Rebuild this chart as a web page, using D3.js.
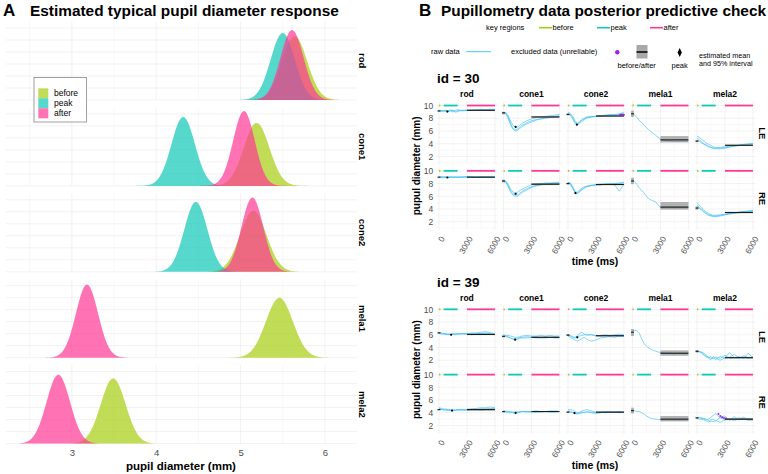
<!DOCTYPE html>
<html>
<head>
<meta charset="utf-8">
<script src="https://cdn.jsdelivr.net/npm/d3@7"></script>
<style>
body { margin: 0; background: #fff; }
svg { font-family: "Liberation Sans", Arial, Helvetica, sans-serif; display: block; }
</style>
</head>
<body>
<svg id="chart" width="768" height="474"></svg>
<script>
// conditions shared by both panels
const conditions = ['rod', 'cone1', 'cone2', 'mela1', 'mela2'];
const groups = ['before', 'peak', 'after'];

// panel A: posterior of typical pupil diameter (mean, sd in mm) per condition
const densBeforeMean = [5.64, 5.19, 5.15, 5.46, 3.49];
const densBeforeSd   = [0.150, 0.152, 0.157, 0.160, 0.147];
const densPeakMean   = [5.50, 4.32, 4.47, null, null];
const densPeakSd     = [0.143, 0.139, 0.137, null, null];
const densAfterMean  = [5.61, 5.04, 5.14, 3.18, 2.84];
const densAfterSd    = [0.137, 0.128, 0.129, 0.131, 0.139];
const densTicks = [3, 4, 5, 6];

// panel B: key regions (ms)
const regionBefore = [0, 150];
const regionPeak = [500, 2000];
const regionAfter = [3000, 6000];
const timeTicks = [0, 3000, 6000];
const diamTicks = [2, 4, 6, 8, 10];

// raw traces, sampled at these times (ms)
const rawTimes = [0, 250, 500, 750, 1000, 1250, 1500, 1750, 2000, 2500, 3000, 3500, 4000, 4500, 5000, 5500, 6000];

const raw30LE = [
  [[9.2,9.1,9.15,9.1,9.1,9.15,9.0,9.1,9.2,9.2,9.25,9.25,9.3,9.25,9.3,9.3,9.25],
   [9.1,9.15,9.1,9.2,9.15,9.2,9.3,8.95,9.05,9.3,9.2,9.35,9.25,9.4,9.35,9.3,9.4],
   [9.25,9.2,9.2,9.25,9.2,9.3,9.15,9.25,9.35,9.15,9.3,9.2,9.3,9.35,9.25,9.45,9.35]],
  [[8.9,8.8,8.2,7.2,6.5,6.2,6.3,6.6,6.9,7.3,7.6,7.8,7.9,8.0,8.1,8.2,8.3],
   [8.8,8.7,8.0,7.0,6.3,6.0,6.1,6.4,6.7,7.1,7.4,7.7,7.9,8.1,8.2,8.3,8.4],
   [8.9,8.9,8.4,7.6,6.9,6.6,6.6,6.9,7.2,7.6,7.9,8.1,8.2,8.3,8.4,8.5,8.6]],
  [[8.6,8.5,7.9,7.2,6.9,7.2,7.5,7.8,8.0,8.2,8.3,8.3,8.4,8.4,8.5,8.5,8.6],
   [8.7,8.6,8.1,7.4,7.0,7.4,7.7,7.9,8.1,8.2,8.3,8.4,8.4,8.5,8.5,8.6,8.7],
   [8.9,8.8,8.3,7.6,7.2,7.5,7.8,8.0,8.2,8.3,8.3,8.4,8.5,8.6,8.6,8.7,8.9]],
  [[8.7,8.5,8.1,7.6,7.3,6.9,6.5,6.2,5.9,5.3,4.7,4.5,4.45,4.4,4.4,4.4,4.4]],
  [[5.2,5.0,4.7,4.4,4.1,3.9,3.7,3.5,3.4,3.3,3.4,3.5,3.6,3.7,3.8,3.9,4.0],
   [4.9,4.6,4.3,4.0,3.8,3.6,3.4,3.3,3.2,3.2,3.3,3.5,3.6,3.8,3.9,4.0,4.1],
   [4.6,4.4,4.1,3.9,3.7,3.5,3.4,3.3,3.3,3.4,3.5,3.6,3.7,3.7,3.8,3.8,3.9]]
];
const raw30RE = [
  [[9.0,9.0,8.95,9.0,9.05,9.0,9.0,9.05,9.0,9.05,9.0,9.05,9.05,9.0,9.05,9.05,9.0],
   [8.95,9.05,9.0,8.95,9.0,9.05,8.95,9.0,9.05,9.0,9.1,9.0,9.0,9.1,9.0,9.0,9.1],
   [9.05,9.0,9.05,9.05,8.95,9.0,9.05,9.0,8.95,9.0,9.05,9.1,9.0,9.05,9.1,9.05,9.05]],
  [[8.5,8.3,7.7,6.9,6.4,6.2,6.2,6.5,6.8,7.2,7.5,7.7,7.8,7.9,8.0,8.0,8.1],
   [8.3,8.2,7.5,6.7,6.2,6.0,6.0,6.3,6.6,7.0,7.4,7.6,7.8,7.9,7.9,8.0,8.0],
   [8.4,8.4,7.9,7.2,6.7,6.5,6.6,6.9,7.1,7.5,7.8,7.9,8.0,8.1,8.1,8.2,8.2]],
  [[8.0,7.9,7.2,6.6,6.5,6.8,7.1,7.3,7.5,7.7,7.8,7.8,7.9,7.9,8.0,8.0,8.1],
   [8.2,8.1,7.5,6.8,6.6,7.0,7.3,7.5,7.6,7.7,7.8,7.9,7.9,8.0,8.0,8.1,8.2],
   [8.1,8.0,7.4,6.6,6.4,6.7,7.0,7.3,7.5,7.7,7.8,7.8,7.9,7.9,7.8,6.8,7.9]],
  [[8.6,8.3,7.8,7.3,6.9,6.5,6.0,5.6,5.4,5.1,4.2,4.2,4.2,4.2,4.2,4.2,4.2]],
  [[5.0,4.6,4.2,3.8,3.5,3.3,3.1,3.0,3.0,3.1,3.2,3.3,3.4,3.5,3.6,3.6,3.7],
   [4.6,4.3,3.9,3.6,3.3,3.1,3.0,2.9,2.9,3.0,3.1,3.3,3.4,3.5,3.6,3.7,3.8],
   [4.3,4.1,3.8,3.5,3.2,3.0,2.9,2.8,2.8,2.9,3.1,3.2,3.3,3.4,3.5,3.5,3.6]]
];
const raw39LE = [
  [[6.4,6.3,6.2,6.1,6.1,6.0,6.1,6.1,6.2,6.1,6.2,6.2,6.3,6.4,6.5,6.3,6.2],
   [6.2,6.2,6.1,6.2,6.0,6.1,6.0,6.2,6.1,6.2,6.1,6.3,6.2,6.2,6.3,6.2,6.1],
   [6.3,6.1,6.2,6.0,6.1,6.1,6.2,6.0,6.1,6.2,6.1,6.0,6.1,6.2,6.2,6.1,6.0]],
  [[5.9,5.8,5.7,5.5,5.3,5.1,5.3,5.5,5.6,5.7,5.6,5.7,5.6,5.7,5.6,5.7,5.6],
   [6.0,5.9,5.9,5.8,5.7,5.6,5.6,5.7,5.8,5.9,5.8,5.8,5.9,5.8,5.9,5.8,5.8],
   [5.7,5.7,5.6,5.5,5.4,5.3,5.4,5.5,5.5,5.5,5.6,5.5,5.5,5.5,5.6,5.5,5.5]],
  [[6.0,5.9,5.7,5.6,5.8,6.2,6.4,6.1,5.9,6.0,5.8,5.9,6.0,5.9,6.0,6.1,6.0],
   [5.9,5.8,5.6,5.5,5.6,5.8,5.9,6.0,6.1,6.0,5.9,5.8,5.9,5.8,5.9,5.8,5.9],
   [5.8,5.6,5.4,5.2,5.0,5.2,5.4,5.6,5.3,5.0,5.2,5.5,5.6,5.7,5.6,5.8,5.7]],
  [[6.6,6.7,6.6,6.2,5.3,4.6,4.2,3.9,3.7,3.4,3.2,3.1,3.1,3.0,3.1,3.0,3.1]],
  [[3.5,3.4,3.2,2.9,2.6,2.5,2.3,2.4,2.1,2.6,2.3,2.5,2.9,2.4,2.5,2.3,2.6],
   [3.4,3.3,3.3,3.1,2.8,2.4,2.6,2.2,2.5,2.3,2.8,2.3,2.4,2.6,2.3,3.1,2.4],
   [3.3,3.4,3.1,2.8,2.5,2.3,2.1,2.6,2.3,2.0,2.4,3.2,2.4,2.3,2.7,2.4,2.3]]
];
const raw39RE = [
  [[4.7,4.6,4.5,4.4,4.4,4.4,4.3,4.4,4.5,4.5,4.5,4.6,4.7,4.8,4.8,4.9,4.8],
   [4.5,4.5,4.4,4.5,4.4,4.3,4.4,4.4,4.4,4.5,4.4,4.5,4.5,4.4,4.5,4.6,4.5],
   [4.8,4.7,4.6,4.6,4.5,4.5,4.5,4.4,4.5,4.4,4.5,4.5,4.5,4.6,4.6,4.6,4.7]],
  [[4.3,4.2,4.2,4.1,4.0,3.8,4.0,4.1,4.2,4.2,4.2,4.3,4.2,4.2,4.3,4.2,4.2],
   [4.2,4.3,4.2,4.2,4.1,4.1,4.1,4.2,4.2,4.1,4.2,4.2,4.2,4.2,4.2,4.3,4.2],
   [4.1,4.1,4.0,4.0,4.1,4.0,4.1,4.1,4.2,4.2,4.1,4.1,4.1,4.2,4.1,4.1,4.2]],
  [[4.5,4.5,4.4,4.2,4.0,4.1,4.3,4.4,4.5,4.3,4.1,4.1,4.2,4.1,4.1,4.2,4.1],
   [4.2,4.1,4.0,3.9,3.9,4.0,4.1,4.0,4.1,4.1,4.0,4.1,4.0,4.1,4.1,4.0,4.1],
   [4.3,4.2,4.1,3.9,3.8,3.9,4.0,4.1,4.2,4.0,3.9,4.0,4.1,4.2,4.1,4.2,4.0]],
  [[4.3,4.3,4.2,4.2,4.0,3.8,3.5,3.3,3.1,3.0,2.9,2.9,2.9,2.9,2.9,2.9,2.9]],
  [[3.3,3.2,3.1,3.0,2.9,3.0,3.3,3.6,3.9,3.2,2.9,3.1,3.0,3.2,3.0,3.1,3.0],
   [3.2,3.3,3.2,3.1,3.0,2.8,2.9,3.0,2.7,3.3,3.5,2.8,3.4,2.9,3.1,2.8,3.1],
   [3.1,3.0,3.0,2.9,2.7,2.6,2.7,2.6,2.8,2.5,2.9,3.0,2.8,3.0,3.3,2.9,2.8]]
];

// excluded (unreliable) samples: [condition index, time ms, diameter]
const excluded30LE = [[2, 5600, 8.55], [2, 5800, 8.6], [2, 6000, 8.55]];
const excluded30RE = [];
const excluded39LE = [];
const excluded39RE = [[4, 2300, 3.8], [4, 2500, 3.5], [4, 2700, 3.3], [4, 2900, 3.2], [4, 3100, 3.1]];

// estimates: before/after [mean, lo, hi], peak [time, mean, lo, hi]
const before30LE = [[9.15,9.05,9.25],[8.85,8.6,9.0],[8.6,8.45,8.75],[8.7,8.2,9.2],[4.4,4.25,4.55]];
const peak30LE   = [[900,9.05,9.0,9.1],[1300,6.65,6.55,6.75],[950,7.0,6.9,7.1],null,null];
const after30LE  = [[9.25,9.18,9.32],[8.2,8.1,8.3],[8.35,8.25,8.45],[4.6,4.2,5.2],[3.75,3.65,3.85]];
const before30RE = [[9.0,8.95,9.05],[8.4,8.2,8.6],[8.0,7.85,8.15],[8.4,7.9,8.9],[4.15,3.9,4.4]];
const peak30RE   = [[900,8.95,8.9,9.0],[1300,6.4,6.3,6.5],[800,6.5,6.4,6.6],null,null];
const after30RE  = [[9.0,8.95,9.05],[7.9,7.75,8.05],[7.85,7.75,7.95],[4.3,3.9,5.1],[3.45,3.35,3.55]];
const before39LE = [[6.3,6.2,6.4],[5.75,5.6,5.9],[5.95,5.8,6.1],[6.4,5.8,6.9],[3.4,3.2,3.6]];
const peak39LE   = [[1300,6.0,5.95,6.05],[1250,5.25,5.15,5.35],[1000,5.6,5.5,5.7],null,null];
const after39LE  = [[6.05,5.95,6.15],[5.6,5.5,5.7],[5.85,5.75,5.95],[3.1,2.7,3.55],[2.4,2.3,2.5]];
const before39RE = [[4.5,4.4,4.6],[4.2,4.1,4.3],[4.1,4.0,4.2],[4.35,3.9,4.8],[3.2,3.1,3.3]];
const peak39RE   = [[1400,4.35,4.3,4.4],[1300,4.0,3.95,4.05],[700,3.95,3.9,4.0],null,null];
const after39RE  = [[4.5,4.35,4.65],[4.2,4.12,4.28],[4.1,4.0,4.2],[3.0,2.65,3.5],[3.0,2.85,3.15]];

// ---------- styling ----------
const COLORS = { before: '#a6cd10', peak: '#10c8b6', after: '#ff3894' };
const FILL_OPACITY = 0.7;
const RAW_COLOR = '#3cc0f5';
const EXCL_COLOR = '#a020f0';
const GRID_MAJOR = '#e9e9e9';
const GRID_MINOR = '#f3f3f3';
const TICK_TEXT = '#4d4d4d';

const svg = d3.select('#chart');

// ============ panel A ============
const A = { left: 6, right: 357, top: 21.5, pitch: 85.9, height: 78.5 };
const xA = d3.scaleLinear().domain([2.22, 6.38]).range([A.left, A.right]);
const yA = d3.scaleLinear().domain([0, 3.27]).range([A.height, 0]);

svg.append('text').attr('x', 3).attr('y', 16).attr('font-size', 17).attr('font-weight', 'bold').text('A');
svg.append('text').attr('x', 30).attr('y', 16).attr('font-size', 15.4).attr('font-weight', 'bold')
  .text('Estimated typical pupil diameter response');

const densMeans = { before: densBeforeMean, peak: densPeakMean, after: densAfterMean };
const densSds = { before: densBeforeSd, peak: densPeakSd, after: densAfterSd };

function normalPdf(x, m, s) {
  return Math.exp(-0.5 * ((x - m) / s) ** 2) / (s * Math.sqrt(2 * Math.PI));
}

conditions.forEach((cond, i) => {
  const g = svg.append('g').attr('transform', `translate(0,${A.top + i * A.pitch})`);

  // grid
  g.selectAll('.vg').data(d3.range(2.5, 6.01, 0.5)).join('line')
    .attr('x1', d => xA(d)).attr('x2', d => xA(d))
    .attr('y1', 0).attr('y2', A.height)
    .attr('stroke', d => Number.isInteger(d) ? GRID_MAJOR : GRID_MINOR).attr('stroke-width', 0.6);
  g.selectAll('.hg').data(d3.range(0, 3.01, 0.5)).join('line')
    .attr('x1', A.left).attr('x2', A.right)
    .attr('y1', d => yA(d)).attr('y2', d => yA(d))
    .attr('stroke', GRID_MAJOR).attr('stroke-width', 0.6);

  const area = d3.area().x(d => xA(d[0])).y0(yA(0)).y1(d => yA(d[1]));
  groups.forEach(grp => {
    const m = densMeans[grp][i], s = densSds[grp][i];
    if (m == null) return;
    const pts = d3.range(Math.max(2.22, m - 4 * s), Math.min(6.38, m + 4 * s), 0.005)
      .map(x => [x, normalPdf(x, m, s)]);
    g.append('path').datum(pts).attr('d', area)
      .attr('fill', COLORS[grp]).attr('fill-opacity', FILL_OPACITY);
  });

  g.append('text')
    .attr('transform', `translate(362,${A.height / 2}) rotate(90)`)
    .attr('text-anchor', 'middle').attr('dy', '0.35em')
    .attr('font-size', 9.5).attr('font-weight', 'bold').text(cond);
});

// x axis A
const axA = svg.append('g')
  .attr('transform', `translate(0,${A.top + 4 * A.pitch + A.height})`)
  .call(d3.axisBottom(xA).tickValues(densTicks).tickFormat(d3.format('d')).tickSize(0).tickPadding(6));
axA.attr('font-family', null).attr('font-size', 9.5);
axA.select('.domain').remove();
axA.selectAll('text').attr('fill', TICK_TEXT);
svg.append('text').attr('x', 181).attr('y', 470).attr('text-anchor', 'middle')
  .attr('font-size', 11.5).attr('font-weight', 'bold').text('pupil diameter (mm)');

// legend A
const legA = svg.append('g').attr('transform', 'translate(34,77.5)');
legA.append('rect').attr('width', 52.5).attr('height', 44.5)
  .attr('fill', '#fff').attr('stroke', '#888').attr('stroke-width', 0.8);
groups.forEach((grp, k) => {
  legA.append('rect').attr('x', 4.3).attr('y', 10.8 + k * 10).attr('width', 10).attr('height', 10)
    .attr('fill', COLORS[grp]).attr('fill-opacity', FILL_OPACITY);
  legA.append('text').attr('x', 20).attr('y', 15.8 + k * 10).attr('dy', '0.35em')
    .attr('font-size', 8.5).text(grp);
});

// ============ panel B ============
svg.append('text').attr('x', 419).attr('y', 16).attr('font-size', 17).attr('font-weight', 'bold').text('B');
svg.append('text').attr('x', 441).attr('y', 16).attr('font-size', 15.4).attr('font-weight', 'bold')
  .text('Pupillometry data posterior predictive check');

// legend B
const legB = svg.append('g').attr('font-size', 7.5);
legB.append('text').attr('x', 486).attr('y', 27.7).attr('dy', '0.35em').text('key regions');
[['before', 539], ['peak', 597], ['after', 650]].forEach(([grp, x]) => {
  legB.append('line').attr('x1', x).attr('x2', x + 13).attr('y1', 27.7).attr('y2', 27.7)
    .attr('stroke', COLORS[grp]).attr('stroke-width', 1.6);
  legB.append('text').attr('x', x + 13.5).attr('y', 27.7).attr('dy', '0.35em').text(grp);
});
legB.append('text').attr('x', 431).attr('y', 51.7).attr('dy', '0.35em').text('raw data');
legB.append('line').attr('x1', 466).attr('x2', 491).attr('y1', 51.7).attr('y2', 51.7)
  .attr('stroke', RAW_COLOR).attr('stroke-width', 0.9);
legB.append('text').attr('x', 511).attr('y', 51.7).attr('dy', '0.35em').text('excluded data (unreliable)');
legB.append('circle').attr('cx', 617.3).attr('cy', 52.3).attr('r', 2.2).attr('fill', EXCL_COLOR);
legB.append('rect').attr('x', 636.5).attr('y', 45).attr('width', 11).attr('height', 13.5).attr('fill', '#a9a9a9');
legB.append('line').attr('x1', 636.5).attr('x2', 647.5).attr('y1', 52).attr('y2', 52)
  .attr('stroke', '#000').attr('stroke-width', 1.5);
legB.append('text').attr('x', 617.5).attr('y', 65.7).attr('dy', '0.35em').text('before/after');
legB.append('path').attr('d', 'M679.7,48 L681.8,52.5 L679.7,57 L677.6,52.5 Z').attr('fill', '#000');
legB.append('text').attr('x', 671.5).attr('y', 65.7).attr('dy', '0.35em').text('peak');
legB.append('text').attr('x', 699).attr('y', 55.5).attr('dy', '0.35em').attr('font-size', 7.2).text('estimated mean');
legB.append('text').attr('x', 699).attr('y', 63.5).attr('dy', '0.35em').attr('font-size', 7.2).text('and 95% interval');

// facet layout
const B = { left: 436.2, colStep: 64.5, panelW: 61.5, panelH: 63, rowStep: 65.3 };
const xB = d3.scaleLinear().domain([-300, 6300]).range([0, B.panelW]);
const yB = d3.scaleLinear().domain([0.7, 10.6]).range([B.panelH, 0]);
const regions = { before: regionBefore, peak: regionPeak, after: regionAfter };

const blocks = [
  { id: 30, top: 101.7, rows: [
    { eye: 'LE', raw: raw30LE, excl: excluded30LE, before: before30LE, peak: peak30LE, after: after30LE },
    { eye: 'RE', raw: raw30RE, excl: excluded30RE, before: before30RE, peak: peak30RE, after: after30RE }] },
  { id: 39, top: 305.5, rows: [
    { eye: 'LE', raw: raw39LE, excl: excluded39LE, before: before39LE, peak: peak39LE, after: after39LE },
    { eye: 'RE', raw: raw39RE, excl: excluded39RE, before: before39RE, peak: peak39RE, after: after39RE }] }
];

const rawLine = d3.line().x((d, k) => xB(rawTimes[k])).y(d => yB(d));

blocks.forEach(block => {
  svg.append('text').attr('x', 437).attr('y', block.top - 19).attr('font-size', 13.5)
    .attr('font-weight', 'bold').text(`id = ${block.id}`);

  // column strips
  conditions.forEach((cond, c) => {
    svg.append('text').attr('x', B.left + c * B.colStep + B.panelW / 2).attr('y', block.top - 5.5)
      .attr('text-anchor', 'middle').attr('dy', '0.1em')
      .attr('font-size', 8.5).attr('font-weight', 'bold').text(cond);
  });

  block.rows.forEach((row, r) => {
    const rowTop = block.top + r * B.rowStep;

    conditions.forEach((cond, c) => {
      const g = svg.append('g').attr('transform', `translate(${B.left + c * B.colStep},${rowTop})`);

      // grid
      g.selectAll('.ym').data([1, 3, 5, 7, 9]).join('line')
        .attr('x1', 0).attr('x2', B.panelW).attr('y1', d => yB(d)).attr('y2', d => yB(d))
        .attr('stroke', GRID_MINOR).attr('stroke-width', 0.5);
      g.selectAll('.xm').data([1500, 4500]).join('line')
        .attr('x1', d => xB(d)).attr('x2', d => xB(d)).attr('y1', 0).attr('y2', B.panelH)
        .attr('stroke', GRID_MINOR).attr('stroke-width', 0.5);
      g.selectAll('.yM').data(diamTicks).join('line')
        .attr('x1', 0).attr('x2', B.panelW).attr('y1', d => yB(d)).attr('y2', d => yB(d))
        .attr('stroke', GRID_MAJOR).attr('stroke-width', 0.6);
      g.selectAll('.xM').data(timeTicks).join('line')
        .attr('x1', d => xB(d)).attr('x2', d => xB(d)).attr('y1', 0).attr('y2', B.panelH)
        .attr('stroke', GRID_MAJOR).attr('stroke-width', 0.6);

      // key region bars at 10 mm
      groups.forEach(grp => {
        g.append('line')
          .attr('x1', xB(regions[grp][0])).attr('x2', xB(regions[grp][1]))
          .attr('y1', yB(10)).attr('y2', yB(10))
          .attr('stroke', COLORS[grp]).attr('stroke-width', 1.8);
      });

      // raw traces
      row.raw[c].forEach(trace => {
        g.append('path').datum(trace).attr('d', rawLine)
          .attr('fill', 'none').attr('stroke', RAW_COLOR)
          .attr('stroke-width', 0.7).attr('stroke-opacity', 0.9);
      });

      // excluded samples
      g.selectAll('.ex').data(row.excl.filter(e => e[0] === c)).join('circle')
        .attr('cx', d => xB(d[1])).attr('cy', d => yB(d[2])).attr('r', 1)
        .attr('fill', EXCL_COLOR);

      // before / after estimate boxes
      [[row.before[c], -150, 150], [row.after[c], regionAfter[0], regionAfter[1]]].forEach(([est, t0, t1]) => {
        g.append('rect')
          .attr('x', xB(t0)).attr('width', xB(t1) - xB(t0))
          .attr('y', yB(est[2])).attr('height', yB(est[1]) - yB(est[2]))
          .attr('fill', '#808080').attr('fill-opacity', 0.6);
        g.append('line')
          .attr('x1', xB(t0)).attr('x2', xB(t1)).attr('y1', yB(est[0])).attr('y2', yB(est[0]))
          .attr('stroke', '#1a1a1a').attr('stroke-width', 1.1);
      });

      // peak estimate
      const pk = row.peak[c];
      if (pk) {
        g.append('line').attr('x1', xB(pk[0])).attr('x2', xB(pk[0]))
          .attr('y1', yB(pk[3])).attr('y2', yB(pk[2])).attr('stroke', '#000').attr('stroke-width', 0.8);
        g.append('circle').attr('cx', xB(pk[0])).attr('cy', yB(pk[1])).attr('r', 1.1).attr('fill', '#000');
      }

      // y axis labels on first column
      if (c === 0) {
        const ay = g.append('g').call(d3.axisLeft(yB).tickValues(diamTicks).tickSize(0).tickPadding(3));
        ay.attr('font-family', null).attr('font-size', 8.5);
        ay.select('.domain').remove();
        ay.selectAll('text').attr('fill', TICK_TEXT);
      }

      // x axis labels under the bottom row
      if (r === 1) {
        const ax = g.append('g').attr('transform', `translate(0,${B.panelH})`)
          .call(d3.axisBottom(xB).tickValues(timeTicks).tickSize(0).tickFormat(d3.format('d')));
        ax.attr('font-family', null).attr('font-size', 8.3);
        ax.select('.domain').remove();
        ax.selectAll('text').attr('fill', TICK_TEXT)
          .attr('y', 0).attr('dy', '0.35em').attr('text-anchor', 'end')
          .attr('transform', 'translate(3,7) rotate(-60)');
      }
    });

    // row strip
    svg.append('text')
      .attr('transform', `translate(762,${rowTop + B.panelH / 2}) rotate(90)`)
      .attr('text-anchor', 'middle').attr('dy', '0.35em')
      .attr('font-size', 9.5).attr('font-weight', 'bold').text(row.eye);
  });

  // axis titles
  const midY = block.top + (B.rowStep + B.panelH) / 2;
  svg.append('text')
    .attr('transform', `translate(416,${midY}) rotate(-90)`)
    .attr('text-anchor', 'middle').attr('dy', '0.35em')
    .attr('font-size', 10).attr('font-weight', 'bold').text('pupul diameter (mm)');
  svg.append('text').attr('x', 595).attr('y', block.top + B.rowStep + B.panelH + 35)
    .attr('text-anchor', 'middle')
    .attr('font-size', 10.5).attr('font-weight', 'bold').text('time (ms)');
});
</script>
</body>
</html>
